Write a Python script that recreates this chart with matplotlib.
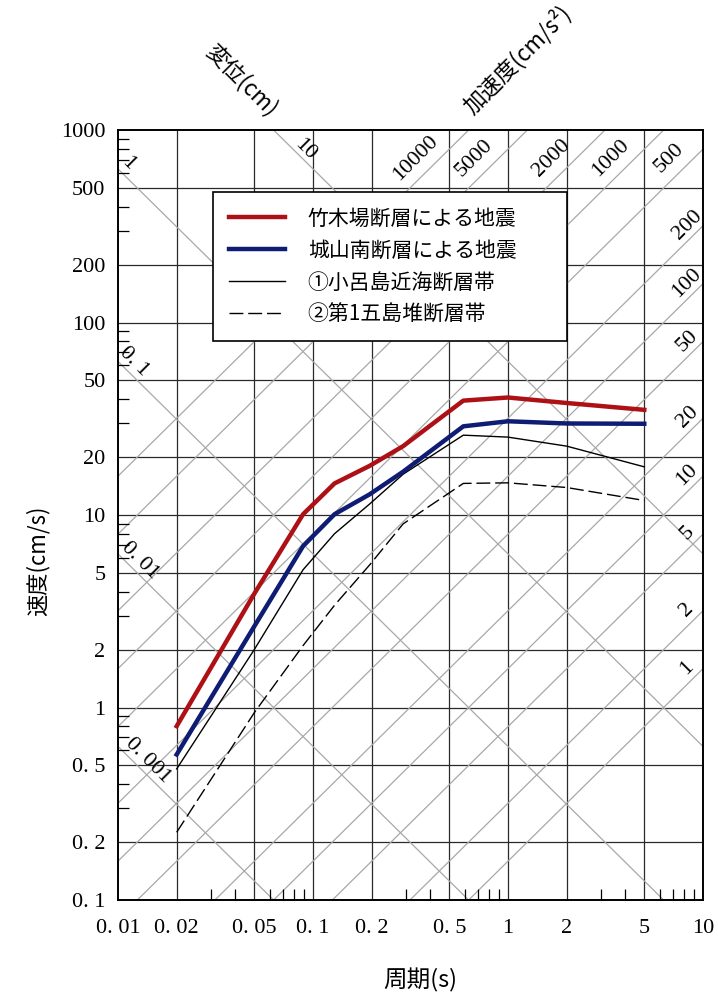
import numpy as np
import matplotlib
matplotlib.use("Agg")
import matplotlib.pyplot as plt

# periods (s) and response velocities (cm/s)
period = [0.02, 0.05, 0.089, 0.129, 0.195, 0.29, 0.59, 1.0, 2.0, 5.0]
vel_takekiba = [0.80, 3.9, 10.1, 14.6, 18.0, 22.8, 39.3, 40.8, 38.2, 35.2]
vel_shiroyama = [0.57, 2.64, 6.9, 10.1, 12.8, 16.8, 28.9, 30.7, 29.9, 29.8]
vel_oroshima = [0.48, 2.0, 5.2, 8.0, 11.4, 16.3, 26.0, 25.4, 22.8, 17.8]
vel_goto = [0.225, 0.94, 2.1, 3.4, 5.5, 9.0, 14.6, 14.7, 13.9, 11.9]

labels = ['竹木場断層による地震', '城山南断層による地震',
          '①小呂島近海断層帯', '②第1五島堆断層帯']

x_ticks = [0.01, 0.02, 0.05, 0.1, 0.2, 0.5, 1, 2, 5, 10]
x_ticklabels = ['0. 01', '0. 02', '0. 05', '0. 1', '0. 2', '0. 5', '1', '2', '5', '10']
y_ticks = [0.1, 0.2, 0.5, 1, 2, 5, 10, 20, 50, 100, 200, 500, 1000]
y_ticklabels = ['0. 1', '0. 2', '0. 5', '1', '2', '5', '10', '20', '50', '100', '200', '500', '1000']

disp_lines = [0.001, 0.01, 0.1, 1, 10]          # cm
disp_labels = ['0. 001', '0. 01', '0. 1', '1', '10']
acc_lines = [1, 2, 5, 10, 20, 50, 100, 200, 500, 1000, 2000, 5000, 10000]  # cm/s2

jp = ['Noto Sans CJK JP', 'DejaVu Sans']
num = 'Liberation Serif'

fig = plt.figure(figsize=(7.18, 9.92), dpi=100)
ax = fig.add_axes([0.1643, 0.0927, 0.8148, 0.7762])
ax.set_xscale('log')
ax.set_yscale('log')
ax.set_xlim(0.01, 10)
ax.set_ylim(0.1, 1000)

# ordinary grid
for t in x_ticks[1:-1]:
    ax.axvline(t, color='#2a2a2a', lw=0.9, zorder=1)
for v in y_ticks[1:-1]:
    ax.axhline(v, color='#2a2a2a', lw=0.9, zorder=1)

# tripartite diagonals
tt = np.logspace(-2, 1, 200)
for d in disp_lines:
    ax.plot(tt, 2 * np.pi * d / tt, color='#a8a8a8', lw=0.9, zorder=1)
for a in acc_lines:
    ax.plot(tt, a * tt / (2 * np.pi), color='#a8a8a8', lw=0.9, zorder=1)

# diagonal labels
disp_pos = {0.001: 0.0142, 0.01: 0.0130, 0.1: 0.0121, 1: 0.0113}
for d, lab in zip(disp_lines[:-1], disp_labels[:-1]):
    tl = disp_pos[d]
    ax.text(tl, 2 * np.pi * d / tl * 1.2, lab, rotation=-45, ha='center', va='center',
            fontsize=16, family=num, zorder=2)
ax.text(0.091, 2 * np.pi * 10 / 0.091 * 1.15, '10', rotation=-45, ha='center', va='center',
        fontsize=16, family=num, zorder=2)
for a in [10000, 5000, 2000, 1000, 500]:
    vl = 715
    tl = 2 * np.pi * vl / a * 0.745
    ax.text(tl, vl, str(a), rotation=45, ha='center', va='center',
            fontsize=16, family=num, zorder=2)
for a in [200, 100, 50, 20, 10, 5, 2, 1]:
    tl = 8.3
    ax.text(tl, a * tl / (2 * np.pi) * 1.22, str(a), rotation=45, ha='center', va='center',
            fontsize=16, family=num, zorder=2)

# spectra
ax.plot(period, vel_takekiba, color='#ad1015', lw=3.2, label=labels[0], zorder=4)
ax.plot(period, vel_shiroyama, color='#0e1c74', lw=3.2, label=labels[1], zorder=4)
ax.plot(period, vel_oroshima, color='black', lw=1.0, label=labels[2], zorder=3)
ax.plot(period, vel_goto, color='black', lw=1.0, dashes=(10, 3.5), label=labels[3], zorder=3)

# ticks
ax.set_xticks(x_ticks)
ax.set_xticklabels(x_ticklabels, family=num, fontsize=16)
ax.set_yticks(y_ticks)
ax.set_yticklabels(y_ticklabels, family=num, fontsize=16)
ax.tick_params(axis='x', which='major', length=0, pad=14)
ax.tick_params(axis='y', which='major', length=0, pad=9)
minor_x = [m * 10.0 ** e for e in (-2, -1, 0) for m in (3, 4, 6, 7, 8, 9)]
minor_y = [m * 10.0 ** e for e in (-1, 0, 1, 2) for m in (3, 4, 6, 7, 8, 9)]
ax.set_xticks(minor_x, minor=True)
ax.set_yticks(minor_y, minor=True)
ax.tick_params(which='minor', direction='in', length=8, width=0.9, labelbottom=False, labelleft=False)
for s in ax.spines.values():
    s.set_linewidth(1.4)

leg = ax.legend(loc='upper left', bbox_to_anchor=(0.1624, 0.7286, 0.605, 0.1909), mode='expand',
                prop={'family': jp, 'size': 15}, frameon=True, fancybox=False,
                edgecolor='black', framealpha=1, handlelength=2.7, handletextpad=1.1,
                labelspacing=0.48, borderpad=0.75, borderaxespad=0)
leg.get_frame().set_linewidth(1.2)
leg.set_zorder(5)

fig.text(0.052, 0.435, '速度(cm/s)', rotation=90, ha='center', va='center',
         fontsize=16, family=jp)
fig.text(0.585, 0.012, '周期(s)', ha='center', va='center', fontsize=17, family=jp)
fig.text(0.336, 0.919, '変位(cm)', rotation=-45, ha='center', va='center',
         fontsize=16, family=jp)
fig.text(0.72, 0.94, '加速度(cm/s²)', rotation=45, ha='center', va='center',
         fontsize=16, family=jp)

fig.savefig('out.png', dpi=100)
